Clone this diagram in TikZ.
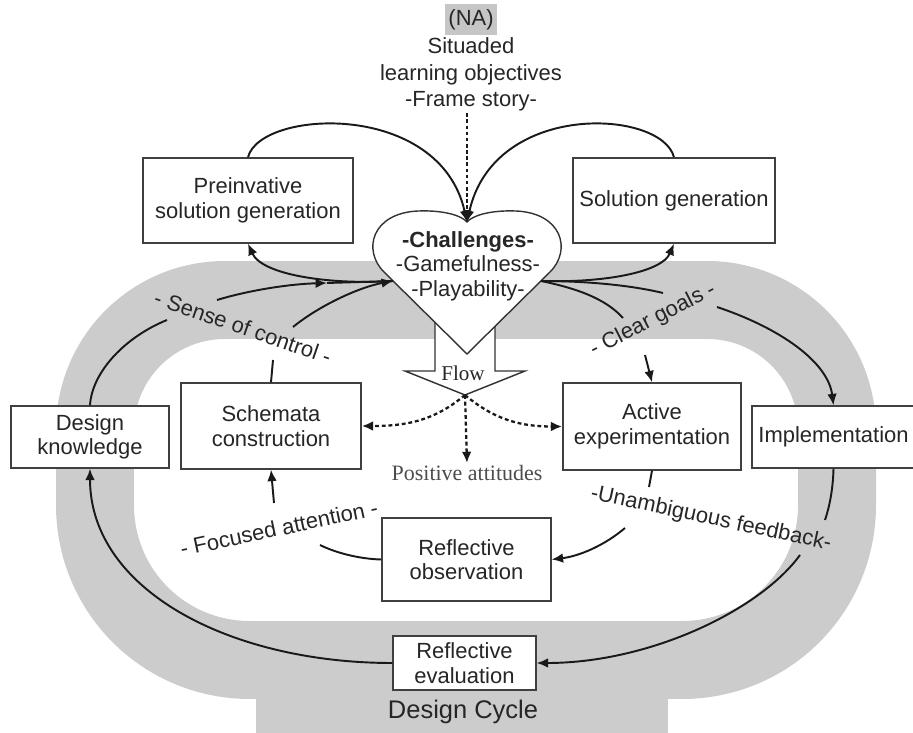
\documentclass[tikz,border=0pt]{standalone}
\usepackage{fontspec}
\setmainfont{Liberation Sans}
\newfontfamily\serifrm{Liberation Serif}
\usetikzlibrary{arrows.meta,positioning}

\begin{document}
\begin{tikzpicture}%
	[x=0.02cm, y=-0.02cm,
	font=\fontsize{12.5}{14}\selectfont,
	box/.style={rectangle, draw=black!75, line width=0.8pt, fill=white, align=center, text=black!85, inner sep=2pt},
	ln/.style={line width=1.1pt, black!90},
	arr/.style={ln, -{Latex[length=6.5pt,width=5.5pt]}},
	dots/.style={dash pattern=on 2.2pt off 1.6pt, line width=1.3pt},
	el/.style={text=black!85, inner sep=1pt},
	ring/.style={draw=gray!40, line width=1.56cm}]
	
	\useasboundingbox (0,0) rectangle (913,733);
	
	% design cycle
	\fill[gray!40] (256,640) rectangle (668,733);
	\draw[ring] (707,300) .. controls (779,300) and (837,358) .. (837,430) -- (837,505)
		.. controls (837,591) and (768,660) .. (682,660) -- (250,660)
		.. controls (164,660) and (95,591) .. (95,505) -- (95,430)
		.. controls (95,358) and (153,300) .. (225,300) -- cycle;
	
	% heart and flow arrow
	\fill[white] (435,315) -- (435,371) -- (405,371) -- (465,395) -- (525,371) -- (495,371) -- (495,315) -- cycle;
	\draw[fill=white, draw=black!80, line width=0.8pt] (467,354) -- (384,272)
		.. controls (362,250) and (372,213) .. (418,211)
		.. controls (445,210) and (462,216) .. (467,222)
		.. controls (472,216) and (489,210) .. (516,211)
		.. controls (562,213) and (572,250) .. (550,272) -- cycle;
	\draw[draw=black!80, line width=0.8pt] (435,322) -- (435,371) -- (405,371) -- (465,395) -- (525,371) -- (495,371) -- (495,326);
	
	\node[el, align=center] (chal) at (468,266) {\textbf{-Challenges-}\\-Gamefulness-\\-Playability-};
	\node[el, font=\serifrm\fontsize{12}{14}\selectfont] (flow) at (463,373) {Flow};
	\node[el, font=\serifrm\fontsize{12.5}{14}\selectfont, text=black!70] (pa) at (467,473) {Positive attitudes};
	
	\node[el, fill=gray!45, inner xsep=2pt, inner ysep=3pt] (na) at (471,20) {(NA)};
	\node[el, align=center, font=\fontsize{12.5}{15}\selectfont] (sit) [below=0pt of na] {Situaded\\learning objectives\\-Frame story-};
	
	\node[box, minimum width=4.2cm, minimum height=1.7cm] (pre) at (248,200.5) {Preinvative\\solution generation};
	\node[box, minimum width=4.04cm, minimum height=1.7cm] (sg) at (674,200.5) {Solution generation};
	\node[box, minimum width=3.16cm, minimum height=1.24cm] (dk) at (90,437) {Design\\knowledge};
	\node[box, minimum width=3.6cm, minimum height=1.72cm] (sc) at (271,426) {Schemata\\construction};
	\node[box, minimum width=3.56cm, minimum height=1.74cm] (ae) at (652,426.5) {Active\\experimentation};
	\node[box, minimum width=3.26cm, minimum height=1.24cm] (impl) at (833.5,437) {Implementation};
	\node[box, minimum width=3.38cm, minimum height=1.66cm] (ro) at (466.5,559.5) {Reflective\\observation};
	\node[box, minimum width=2.86cm, minimum height=1.08cm] (re) at (464.5,663) {Reflective\\evaluation};
	
	\node[el, font=\fontsize{14.5}{16}\selectfont] (dc) at (463,712) {Design Cycle};
	
	\node[el, rotate=-19] (soc) at (243,327) {- Sense of control -};
	\node[el, rotate=27] (cg) at (653,320) {- Clear goals -};
	\node[el, rotate=-12] (ufb) at (711,519) {-Unambiguous feedback-};
	\node[el, rotate=12] (fa) at (279,528) {- Focused attention -};
	
	\coordinate (dimple) at (467,222);
	\coordinate (jl) at (393,281);
	\coordinate (jr) at (541,281);
	\coordinate (flowtip) at (465,395);
	\coordinate (soc1) at (167,320);
	\coordinate (soc2) at (217,300);
	\coordinate (soc3) at (327,283);
	\coordinate (soc4) at (273,360);
	\coordinate (soc5) at (293,327);
	\coordinate (cg1) at (663,293);
	\coordinate (cg2) at (717,307);
	\coordinate (cg3) at (623,318);
	\coordinate (cg4) at (645,355);
	\coordinate (ufb1) at (649,487);
	\coordinate (ufb2) at (625,528);
	\coordinate (ufb3) at (825,520);
	\coordinate (ufb4) at (800,555);
	\coordinate (fa1) at (320,545);
	\coordinate (fa2) at (274,503);
	
	\draw[arr, line width=0.6pt, dash pattern=on 2pt off 1.5pt] (sit.south -| dimple) -- (dimple);
	\draw[arr] (pre.north) .. controls +(12,-48) and +(-27,-122) .. (dimple);
	\draw[arr] (sg.north) .. controls +(-12,-48) and +(27,-122) .. (dimple);
	\draw[arr] (jl) .. controls (330,285) and (262,275) .. (pre.south);
	\draw[arr] (jr) .. controls (605,283) and (662,272) .. (sg.south);
	
	\draw[ln] (dk.north) .. controls (92,372) and (125,337) .. (soc1);
	\draw[arr] (soc2) .. controls (250,290) and (290,284) .. (soc3);
	\draw[ln] (soc3) -- (jl);
	\draw[ln] (sc.north) -- (soc4);
	\draw[arr] (soc5) .. controls (320,305) and (360,287) .. (jl);
	
	\draw[ln] (jr) .. controls (585,281) and (630,285) .. (cg1);
	\draw[arr] (cg2) .. controls (780,328) and (828,362) .. (impl.north);
	\draw[ln] (jr) .. controls (575,288) and (605,298) .. (cg3);
	\draw[arr] (cg4) -- (ae.north);
	
	\draw[ln] (ae.south) -- (ufb1);
	\draw[arr] (ufb2) .. controls (605,545) and (580,556) .. (ro.east);
	\draw[ln] (ro.west) .. controls (360,559) and (336,553) .. (fa1);
	\draw[arr] (fa2) -- (sc.south);
	
	\draw[ln] (impl.south) .. controls (833,488) and (830,505) .. (ufb3);
	\draw[arr] (ufb4) .. controls (760,610) and (650,663) .. (re.east);
	\draw[arr] (re.west) .. controls (230,663) and (90,590) .. (dk.south);
	
	\draw[arr, dots] (flowtip) to[out=-140, in=0] (sc.east);
	\draw[arr, dots] (flowtip) to[out=-40, in=180] (ae.west);
	\draw[arr, dots] (flowtip) -- (pa.north);
	
\end{tikzpicture}
\end{document}
